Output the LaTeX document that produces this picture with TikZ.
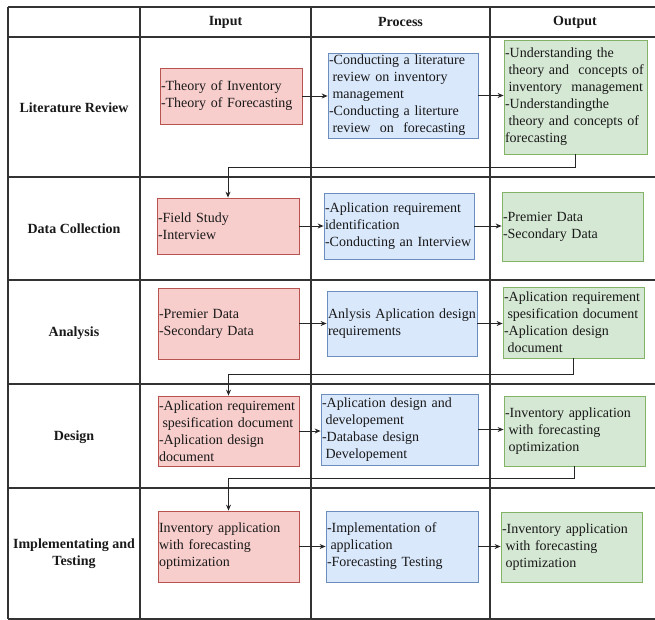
\documentclass[tikz,border=0pt]{standalone}
\usepackage{fontspec}
\setmainfont{Liberation Serif}
\usepackage{tikz}
\usetikzlibrary{arrows.meta}

\definecolor{inFill}{HTML}{F8CECC}
\definecolor{inLine}{HTML}{B85450}
\definecolor{prFill}{HTML}{DAE8FC}
\definecolor{prLine}{HTML}{6C8EBF}
\definecolor{ouFill}{HTML}{D5E8D4}
\definecolor{ouLine}{HTML}{82B366}
\newcommand{\indt}{\hspace*{3.5pt}}

\begin{document}
\begin{tikzpicture}[%
  x=1pt, y=-1pt,
  font=\fontsize{14}{17}\selectfont,
  tabline/.style={draw=black!80, line width=1.2pt},
  box/.style={draw, rectangle, align=left, inner xsep=1pt, inner ysep=0pt,
    line width=0.8pt, text=black!90},
  inbox/.style={box, fill=inFill, draw=inLine},
  prbox/.style={box, fill=prFill, draw=prLine},
  oubox/.style={box, fill=ouFill, draw=ouLine},
  head/.style={font=\fontsize{14}{17}\selectfont\bfseries, align=center, text=black!90},
  arr/.style={-{Stealth[length=6pt,width=5pt]}, line width=0.9pt, draw=black!85}]
  \useasboundingbox (0,0) rectangle (655,620);

  % table
  \foreach \y in {7,37,177,280,384,488,619}
    \draw[tabline] (8,\y) -- (655,\y);
  \foreach \x in {8,140,311,490}
    \draw[tabline] (\x,7) -- (\x,619);

  \node[head] (hin) at (225.5,22) {Input};
  \node[head] (hpr) at (400.5,22) {Process};
  \node[head] (hou) at (575,22) {Output};

  \node[head] (lit) at (74,108) {Literature Review};
  \node[head] (dat) at (74,229) {Data Collection};
  \node[head] (ana) at (74,333) {Analysis};
  \node[head] (des) at (74,437) {Design};
  \node[head] (imp) at (74,554) {Implementating and\\Testing};

  % literature review
  \node[inbox, text width=140pt, minimum height=56pt] (i1) at (231,96)
    {-Theory of Inventory\\-Theory of Forecasting};
  \node[prbox, text width=148pt, minimum height=85pt] (p1) at (403,95.5)
    {-Conducting a literature\\\indt review on inventory\\\indt management\\-Conducting a literture\\\indt review\ \ on\ \ forecasting};
  \node[oubox, text width=141pt, minimum height=114pt] (o1) at (575.5,97)
    {-Understanding the\\\indt theory and\ \ concepts of\\\indt inventory\ \ management\\-Understandingthe\\\indt theory and concepts of\\forecasting};

  % data collection
  \node[inbox, text width=140pt, minimum height=56pt] (i2) at (228,226)
    {-Field Study\\-Interview};
  \node[prbox, text width=148pt, minimum height=66pt] (p2) at (399,226)
    {-Aplication requirement\\identification\\-Conducting an Interview};
  \node[oubox, text width=139pt, minimum height=69pt] (o2) at (572.5,226.5)
    {-Premier Data\\-Secondary Data};

  % analysis
  \node[inbox, text width=139pt, minimum height=71pt] (i3) at (228.5,323.5)
    {-Premier Data\\-Secondary Data};
  \node[prbox, text width=148pt, minimum height=65pt] (p3) at (402,323.5)
    {Anlysis Aplication design\\requirements};
  \node[oubox, text width=139pt, minimum height=71pt] (o3) at (573.5,322.5)
    {-Aplication requirement\\\indt spesification document\\-Aplication design\\\indt document};

  % design
  \node[inbox, text width=139pt, minimum height=70pt] (i4) at (228.5,431)
    {-Aplication requirement\\\indt spesification document\\-Aplication design\\document};
  \node[prbox, text width=155pt, minimum height=71pt] (p4) at (399.5,429.5)
    {-Aplication design and\\\indt developement\\-Database design\\\indt Developement};
  \node[oubox, text width=139pt, minimum height=70pt] (o4) at (574.5,431)
    {-Inventory application\\\indt with forecasting\\\indt optimization};

  % implementation and testing
  \node[inbox, text width=139pt, minimum height=71pt] (i5) at (228.5,546.5)
    {Inventory application\\with forecasting\\optimization};
  \node[prbox, text width=150pt, minimum height=71pt] (p5) at (402,546.5)
    {-Implementation of\\\indt application\\-Forecasting Testing};
  \node[oubox, text width=139pt, minimum height=70pt] (o5) at (571.5,547)
    {-Inventory application\\\indt with forecasting\\\indt optimization};

  % arrows
  \foreach \r in {1,...,5} {
    \draw[arr] (i\r.east) -- (i\r.east -| p\r.west);
    \draw[arr] (p\r.east) -- (p\r.east -| o\r.west);
  }
  \draw[arr] (o1.south) -- ++(0,13) -| (i2.north);
  \draw[arr] (o3.south) -- ++(0,16) -| (i4.north);
  \draw[arr] (o4.south) -- ++(0,12) -| (i5.north);
\end{tikzpicture}
\end{document}
